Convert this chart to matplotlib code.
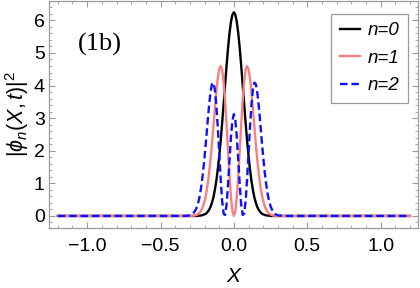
import numpy as np
import matplotlib
matplotlib.use("Agg")
from matplotlib import pyplot as plt
from matplotlib.ticker import MultipleLocator

plt.rcParams['font.family'] = ['Liberation Sans', 'DejaVu Sans']
plt.rcParams['mathtext.fontset'] = 'custom'
plt.rcParams['mathtext.rm'] = 'Liberation Sans'
plt.rcParams['mathtext.it'] = 'Liberation Sans:italic'

# half profiles, x = 0.00 ... 0.35 (step 0.01), curves are symmetric about X=0
x_half = [0.00, 0.01, 0.02, 0.03, 0.04, 0.05, 0.06, 0.07, 0.08, 0.09,
          0.10, 0.11, 0.12, 0.13, 0.14, 0.15, 0.16, 0.17, 0.18, 0.19,
          0.20, 0.21, 0.22, 0.23, 0.24, 0.25, 0.26, 0.27, 0.28, 0.29,
          0.30, 0.31, 0.32, 0.33, 0.34, 0.35]
n0_half = [6.25, 6.17, 5.95, 5.60, 5.14, 4.60, 4.02, 3.43, 2.85, 2.31,
           1.83, 1.42, 1.07, 0.79, 0.56, 0.40, 0.27, 0.18, 0.12, 0.07,
           0.05, 0.03, 0.02, 0.01, 0.01, 0.00, 0.00, 0.00, 0.00, 0.00,
           0.00, 0.00, 0.00, 0.00, 0.00, 0.00]
n1_half = [0.00, 0.15, 0.58, 1.24, 2.02, 2.82, 3.55, 4.12, 4.48, 4.60,
           4.50, 4.21, 3.78, 3.26, 2.72, 2.18, 1.70, 1.28, 0.93, 0.66,
           0.45, 0.30, 0.20, 0.12, 0.08, 0.04, 0.03, 0.01, 0.01, 0.00,
           0.00, 0.00, 0.00, 0.00, 0.00, 0.00]
n2_half = [3.12, 2.94, 2.42, 1.70, 0.95, 0.34, 0.03, 0.07, 0.46, 1.13,
           1.93, 2.74, 3.43, 3.89, 4.09, 4.04, 3.77, 3.35, 2.84, 2.30,
           1.80, 1.35, 0.98, 0.68, 0.46, 0.30, 0.19, 0.12, 0.07, 0.04,
           0.02, 0.01, 0.01, 0.00, 0.00, 0.00]
x_end = 1.2

def full(xs, ys):
    xs = np.array(xs)
    ys = np.array(ys)
    xx = np.concatenate([[-x_end], -xs[::-1], xs[1:], [x_end]])
    yy = np.concatenate([[0.0], ys[::-1], ys[1:], [0.0]])
    return xx, yy

fig = plt.figure(figsize=(4.2, 2.88), dpi=100)
ax = fig.add_axes([0.1167, 0.2083, 0.8786, 0.789])

gray = '#9a9a9a'
xx, yy = full(x_half, n0_half)
ax.plot(xx, yy, color='black', lw=1.7, label='n=0')
xx, yy = full(x_half, n1_half)
ax.plot(xx, yy, color='#f88080', lw=1.7, label='n=1')
xx, yy = full(x_half, n2_half)
ax.plot(xx, yy, color='#1010ff', lw=1.7, ls=(0, (3.2, 1.6)), label='n=2')

ax.set_xlim(-1.26, 1.255)
ax.set_ylim(-0.37, 6.6)
ax.xaxis.set_major_locator(MultipleLocator(0.5))
ax.xaxis.set_minor_locator(MultipleLocator(0.1))
ax.yaxis.set_major_locator(MultipleLocator(1))
ax.yaxis.set_minor_locator(MultipleLocator(0.2))
ax.tick_params(which='both', direction='in', top=True, right=True, color=gray)
ax.tick_params(which='major', length=4, width=0.8)
ax.tick_params(which='minor', length=2, width=0.6)
ax.tick_params(axis='x', labelsize=14, pad=7)
ax.tick_params(axis='y', labelsize=14, pad=3)
for s in ax.spines.values():
    s.set_color(gray)
    s.set_linewidth(0.9)

ax.set_xlabel('X', style='italic', fontsize=15, labelpad=9)
ax.set_ylabel(r'$|\phi_n(X,t)|^2$', fontsize=15.5, labelpad=2)

ax.text(-0.91, 5.26, '(1b)', family=['Liberation Serif', 'DejaVu Serif'],
        fontsize=19, ha='center', va='center')

leg = ax.legend(loc='upper right', bbox_to_anchor=(0.973, 0.943), borderaxespad=0,
                prop={'size': 13.5, 'style': 'italic'}, handlelength=1.1,
                handletextpad=0.4, labelspacing=0.55,
                fancybox=False, framealpha=1, edgecolor=gray, borderpad=0.45)
leg.get_frame().set_linewidth(0.9)

fig.savefig('out.png', dpi=100)
